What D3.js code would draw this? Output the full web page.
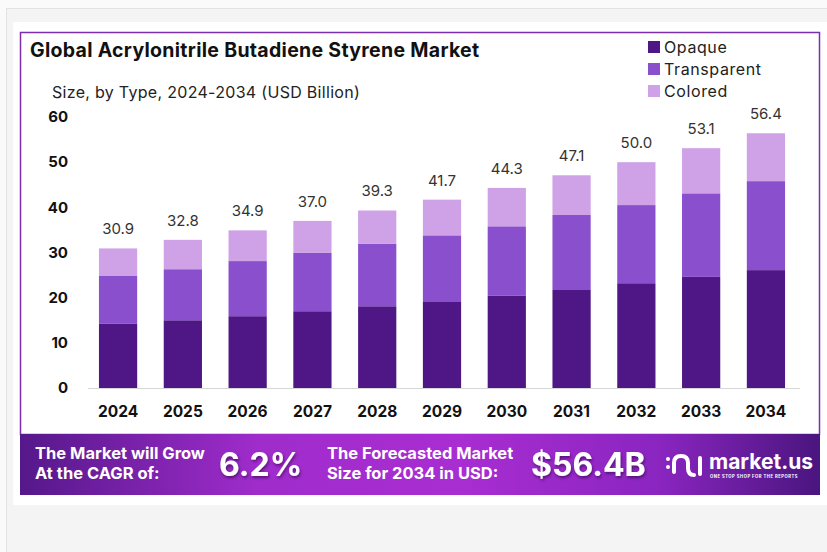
<!DOCTYPE html>
<meta charset="utf-8">
<script src="https://cdn.jsdelivr.net/npm/d3@7"></script>
<style>
body { margin: 0; background: #f4f4f4; font-family: "Inter", "Noto Sans", sans-serif; }
svg { display: block; }
.axis-num { font-weight: 700; font-size: 15px; fill: #111; }
.year { font-weight: 700; font-size: 15.5px; fill: #111; }
.total { font-size: 15px; fill: #333; }
.legend text { font-size: 16px; fill: #222; letter-spacing: 0.6px; }
.banner text { fill: #fff; font-weight: 700; }
</style>
<body>
<div class="chart"></div>
<script>
// data
var years = ["2024", "2025", "2026", "2027", "2028", "2029", "2030", "2031", "2032", "2033", "2034"];
var types = ["Opaque", "Transparent", "Colored"];
var opaque      = [14.2, 15.0, 15.9, 17.0, 18.1, 19.2, 20.4, 21.7, 23.2, 24.6, 26.1];
var transparent = [10.6, 11.3, 12.2, 12.9, 13.8, 14.6, 15.4, 16.6, 17.3, 18.5, 19.7];
var colored     = [6.1, 6.5, 6.8, 7.1, 7.4, 7.9, 8.5, 8.8, 9.5, 10.0, 10.6];
var totals      = [30.9, 32.8, 34.9, 37.0, 39.3, 41.7, 44.3, 47.1, 50.0, 53.1, 56.4];
var yTicks = [0, 10, 20, 30, 40, 50, 60];
var colors = ["#4f1786", "#8a4fcd", "#cfa2e7"];

var W = 827, H = 552;
var svg = d3.select(".chart").append("svg").attr("width", W).attr("height", H);

// page frame
svg.append("rect").attr("width", W).attr("height", H).attr("fill", "#f4f4f4");
svg.append("rect").attr("x", 0).attr("y", 0).attr("width", W).attr("height", 8).attr("fill", "#fafafa");
svg.append("rect").attr("x", 0).attr("y", 0).attr("width", 6).attr("height", H).attr("fill", "#fafafa");
svg.append("line").attr("x1", 6).attr("x2", W).attr("y1", 8.5).attr("y2", 8.5).attr("stroke", "#e2e2e2");
svg.append("line").attr("x1", 6.5).attr("x2", 6.5).attr("y1", 8).attr("y2", H).attr("stroke", "#e2e2e2");
svg.append("rect").attr("x", 13).attr("y", 22).attr("width", W - 13).attr("height", 483).attr("fill", "#fff");
svg.append("rect").attr("x", 20.5).attr("y", 32.5).attr("width", 799).attr("height", 402)
   .attr("fill", "#fff").attr("stroke", "#7b2fb0").attr("stroke-width", 1.5);

// titles
svg.append("text").attr("x", 30).attr("y", 57).text("Global Acrylonitrile Butadiene Styrene Market")
   .attr("font-size", 19.5).attr("letter-spacing", 0.3).attr("font-weight", 700).attr("fill", "#111");
svg.append("text").attr("x", 52).attr("y", 98).text("Size, by Type, 2024-2034 (USD Billion)")
   .attr("font-size", 16).attr("letter-spacing", 0.3).attr("fill", "#222");

// scales
var x = d3.scaleBand().domain(years).range([86, 798]).paddingInner(0.41).paddingOuter(0.2);
var y = d3.scaleLinear().domain([0, 60]).range([388, 117]);

svg.append("g").selectAll("text").data(yTicks).enter().append("text")
   .attr("class", "axis-num").attr("x", 68).attr("y", function(d) { return y(d); })
   .attr("dy", "0.35em").attr("text-anchor", "end").text(function(d) { return d; });

svg.append("line").attr("x1", 88).attr("x2", 800).attr("y1", y(0) + 0.5).attr("y2", y(0) + 0.5)
   .attr("stroke", "#d6d6d6");

// stacked bars
var table = years.map(function(yr, i) {
  return { year: yr, Opaque: opaque[i], Transparent: transparent[i], Colored: colored[i] };
});
var series = d3.stack().keys(types)(table);

svg.append("g").selectAll("g").data(series).enter().append("g")
   .attr("fill", function(d, i) { return colors[i]; })
   .selectAll("rect").data(function(d) { return d; }).enter().append("rect")
   .attr("x", function(d) { return x(d.data.year); })
   .attr("width", x.bandwidth())
   .attr("y", function(d) { return y(d[1]); })
   .attr("height", function(d) { return y(d[0]) - y(d[1]); });

svg.append("g").selectAll("text").data(totals).enter().append("text")
   .attr("class", "total")
   .attr("x", function(d, i) { return x(years[i]) + x.bandwidth() / 2; })
   .attr("y", function(d) { return y(d) - 14; })
   .attr("text-anchor", "middle").text(function(d) { return d.toFixed(1); });

svg.append("g").selectAll("text").data(years).enter().append("text")
   .attr("class", "year")
   .attr("x", function(d) { return x(d) + x.bandwidth() / 2; })
   .attr("y", 417).attr("text-anchor", "middle").text(function(d) { return d; });

// legend
var legend = svg.append("g").attr("class", "legend").selectAll("g").data(types).enter().append("g")
   .attr("transform", function(d, i) { return "translate(648," + (47 + i * 22) + ")"; });
legend.append("rect").attr("x", 0).attr("y", -6).attr("width", 12).attr("height", 12)
   .attr("fill", function(d, i) { return colors[i]; });
legend.append("text").attr("x", 16).attr("dy", "0.35em").text(function(d) { return d; });

// banner
var defs = svg.append("defs");
var grad = defs.append("linearGradient").attr("id", "bannerGrad");
grad.append("stop").attr("offset", "0%").attr("stop-color", "#55188a");
grad.append("stop").attr("offset", "30%").attr("stop-color", "#a02ccc");
grad.append("stop").attr("offset", "55%").attr("stop-color", "#a92dd2");
grad.append("stop").attr("offset", "80%").attr("stop-color", "#8a25c0");
grad.append("stop").attr("offset", "100%").attr("stop-color", "#4a157e");
var shadow = defs.append("filter").attr("id", "shadow");
shadow.append("feDropShadow").attr("dx", 1).attr("dy", 2).attr("stdDeviation", 1.5)
   .attr("flood-color", "#2a0645").attr("flood-opacity", 0.6);

var banner = svg.append("g").attr("class", "banner");
banner.append("rect").attr("x", 20).attr("y", 434).attr("width", 800).attr("height", 61)
   .attr("fill", "url(#bannerGrad)");
banner.append("text").attr("x", 35).attr("y", 459).attr("font-size", 16.5).text("The Market will Grow");
banner.append("text").attr("x", 35).attr("y", 479).attr("font-size", 16.5).text("At the CAGR of:");
banner.append("text").attr("x", 219).attr("y", 476).attr("font-size", 32).attr("filter", "url(#shadow)").text("6.2%");
banner.append("text").attr("x", 327).attr("y", 459).attr("font-size", 16.5).text("The Forecasted Market");
banner.append("text").attr("x", 327).attr("y", 479).attr("font-size", 16.5).text("Size for 2034 in USD:");
banner.append("text").attr("x", 531).attr("y", 476).attr("font-size", 32).attr("filter", "url(#shadow)").text("$56.4B");
// logo mark
var logo = banner.append("g").attr("fill", "none").attr("stroke", "#fff").attr("stroke-width", 4).attr("stroke-linecap", "round");
logo.append("path").attr("d", "M674,472 L674,463 Q674,456 681,456 Q688,456 688,463 L688,468 Q688,475 694,475");
logo.append("line").attr("x1", 700).attr("x2", 700).attr("y1", 458).attr("y2", 474);
banner.append("circle").attr("cx", 668).attr("cy", 459).attr("r", 2).attr("fill", "#fff");
banner.append("circle").attr("cx", 668).attr("cy", 467).attr("r", 2).attr("fill", "#fff");
banner.append("text").attr("x", 709).attr("y", 469).attr("font-size", 21).text("market.us");
banner.append("text").attr("x", 710).attr("y", 478).attr("font-size", 4.2).attr("letter-spacing", 0.5).text("ONE STOP SHOP FOR THE REPORTS");
</script>
</body>
